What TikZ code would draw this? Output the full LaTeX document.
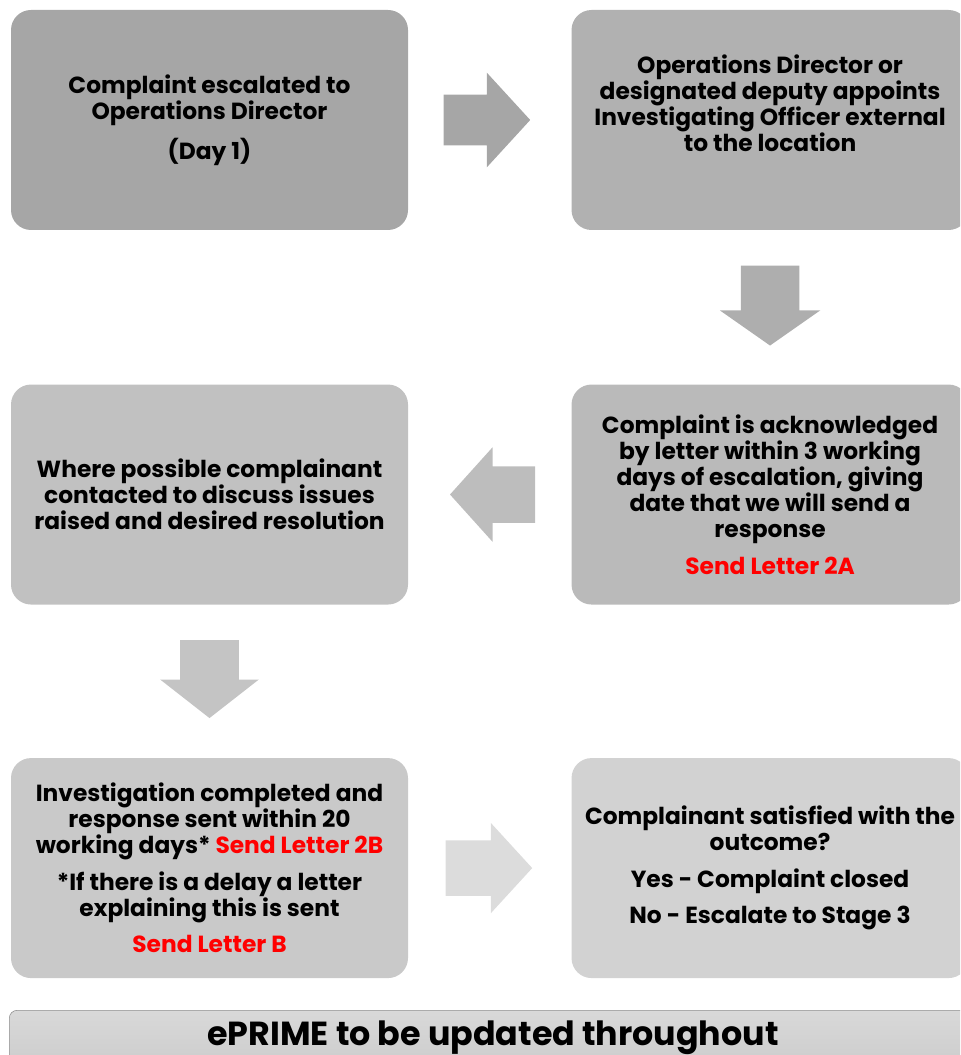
\documentclass[tikz,border=0pt]{standalone}
\usepackage{fontspec}
\setmainfont{Poppins}
\usetikzlibrary{shapes.arrows, positioning, calc}
\definecolor{gOne}{HTML}{A6A6A6}
\definecolor{gTwo}{HTML}{B1B1B1}
\definecolor{gThree}{HTML}{BABABA}
\definecolor{gFour}{HTML}{C1C1C1}
\definecolor{gFive}{HTML}{C9C9C9}
\definecolor{gSix}{HTML}{D2D2D2}
\definecolor{aOne}{HTML}{A6A6A6}
\definecolor{aTwo}{HTML}{AEAEAE}
\definecolor{aThree}{HTML}{BDBDBD}
\definecolor{aFour}{HTML}{C4C4C4}
\definecolor{aFive}{HTML}{DCDCDC}
\definecolor{lred}{HTML}{FF0000}
\definecolor{barline}{HTML}{8C8C8C}

\tikzset{
  stagebox/.style={rounded corners=15pt, minimum width=297.75pt, minimum height=165pt,
    inner sep=0pt, align=center, font=\bfseries\fontsize{17.5}{19.5}\selectfont},
  stagetext/.style={inner sep=0pt, align=center, font=\bfseries\fontsize{17.5}{19.5}\selectfont},
  blockarrow/.style={single arrow, draw=none, anchor=tail, inner xsep=0pt, inner ysep=18.75pt,
    minimum height=65pt, single arrow head extend=16.5pt, single arrow tip angle=95}
}

\begin{document}
\begin{tikzpicture}[x=0.75pt, y=-0.75pt]
  \clip (0,0) rectangle (960,1055);

  % stage boxes
  \node[stagebox, fill=gOne] (box1) at (209.5,120) {
    Complaint escalated to\\
    Operations Director\\[8pt]
    (Day 1)
  };
  \node[stagebox, fill=gTwo, right=122.25pt of box1] (box2) {};
  \node[stagetext] (box2-text) at ([yshift=12.75pt]box2.center) {
    Operations Director or\\
    designated deputy appoints\\
    Investigating Officer external\\
    to the location
  };
  \node[stagebox, fill=gThree, below=115.5pt of box2] (box3) {
    Complaint is acknowledged\\
    by letter within 3 working\\
    days of escalation, giving\\
    date that we will send a\\
    response\\[8pt]
    \textcolor{lred}{Send Letter 2A}
  };
  \node[stagebox, fill=gFour, left=122.25pt of box3] (box4) {
    Where possible complainant\\
    contacted to discuss issues\\
    raised and desired resolution
  };
  \node[stagebox, fill=gFive, below=114.75pt of box4] (box5) {
    Investigation completed and\\
    response sent within 20\\
    working days* \textcolor{lred}{Send Letter 2B}\\[8pt]
    *If there is a delay a letter\\
    explaining this is sent\\[8pt]
    \textcolor{lred}{Send Letter B}
  };
  \node[stagebox, fill=gSix, right=122.25pt of box5] (box6) {
    Complainant satisfied with the\\
    outcome?\\[8pt]
    Yes - Complaint closed\\[8pt]
    No - Escalate to Stage 3
  };

  % block arrows between the boxes
  \node[blockarrow, fill=aOne] (arr1) at ($(box1.east)+(35,0)$) {};
  \node[blockarrow, fill=aTwo, rotate=-90, minimum height=60pt, inner ysep=21.75pt,
    single arrow head extend=15.75pt, single arrow tip angle=110] (arr2)
    at ($(box2.south)+(0,35)$) {};
  \node[blockarrow, fill=aThree, rotate=180, minimum height=63.75pt, inner ysep=21pt,
    single arrow head extend=14.25pt, single arrow tip angle=96] (arr3)
    at ($(box3.west)+(-36,0)$) {};
  \node[blockarrow, fill=aFour, rotate=-90, minimum height=58.5pt, inner ysep=21.75pt,
    single arrow head extend=15pt, single arrow tip angle=104] (arr4)
    at ($(box4.south)+(0,35)$) {};
  \node[blockarrow, fill=aFive, inner ysep=20.6pt, single arrow head extend=13pt] (arr5)
    at ($(box5.east)+(37,0)$) {};

  % bottom bar
  \node[draw=barline, top color=gray!30, bottom color=gray!42, rounded corners=6pt,
    minimum width=726pt, minimum height=52.5pt, inner sep=0pt, anchor=north west] (bar) at (9,1010) {};
  \node[font=\bfseries\fontsize{25}{27}\selectfont, anchor=base] (bar-text) at (493,1045) {ePRIME to be updated throughout};
\end{tikzpicture}
\end{document}
